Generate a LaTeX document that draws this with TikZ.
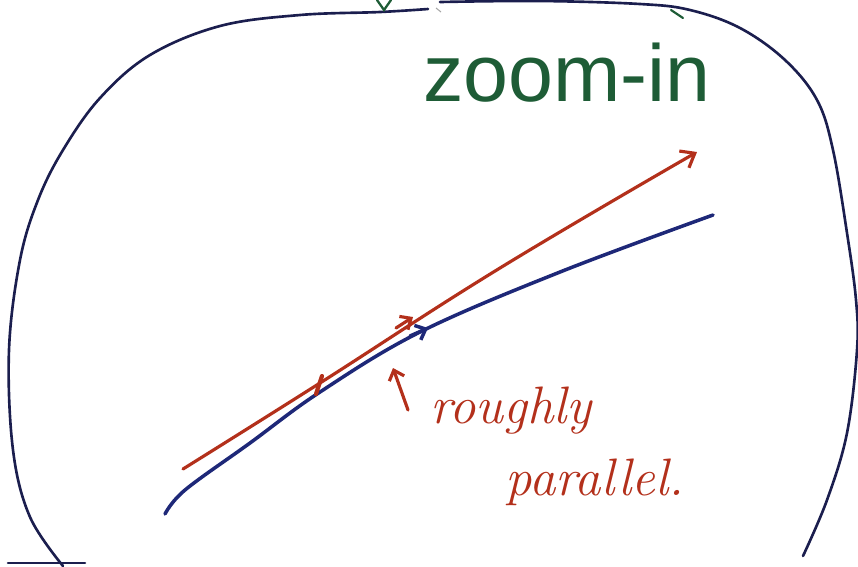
\documentclass[tikz,border=0pt]{standalone}
\usepackage{fontspec}
\usetikzlibrary{arrows.meta}
\newfontfamily\titlefont{Liberation Sans}
\definecolor{SketchNavy}{HTML}{1B1E4E}
\definecolor{SketchBlue}{HTML}{1E2878}
\definecolor{SketchRed}{HTML}{B3301B}
\definecolor{SketchGreen}{HTML}{1E5C36}
\tikzset{
    % Pen strokes
    outline/.style={
        draw=SketchNavy,
        line width=1.5pt,
        line cap=round,
        line join=round
    },
    curve/.style={
        draw=SketchBlue,
        line width=2pt,
        line cap=round,
        line join=round
    },
    tangent/.style={
        draw=SketchRed,
        line width=1.8pt,
        line cap=round,
        line join=round
    },
    % Arrow tips
    tip/.style={
        -{Straight Barb[length=7pt,width=11pt]}
    },
    smalltip/.style={
        -{Straight Barb[length=5pt,width=9pt]}
    },
    % Labels
    title/.style={
        text=SketchGreen,
        font=\titlefont\fontsize{46}{46}\selectfont,
        inner sep=0pt
    },
    note/.style={
        text=SketchRed,
        font=\fontsize{30}{30}\selectfont\itshape,
        inner sep=0pt
    }
}

\begin{document}
\begin{tikzpicture}[x=0.02cm, y=-0.02cm]
    \useasboundingbox (0,0) rectangle (858,566);

    % Zoom window outline
    \draw[outline] plot[smooth, tension=0.6] coordinates {
        (63,566) (30,517) (13,450) (9,350) (20,260) (38,200) (63,150)
        (100,98) (150,55) (220,26) (300,15) (380,12) (428,9)};
    \draw[outline] plot[smooth, tension=0.6] coordinates {
        (440,2) (540,1) (640,4) (690,10) (740,28) (785,60) (817,100)
        (833,150) (847,233) (856,300) (857,350) (847,433) (827,500) (803,556)};
    \draw[outline] (8,563) -- (85,563);
    \draw[SketchGreen, line width=1.3pt, line cap=round] (377,0) -- (384,10) -- (391,0);
    \draw[SketchGreen, line width=1.2pt, line cap=round] (671,10) -- (683,18);
    \draw[black!35, line width=0.6pt] (436,8) -- (441,12);

    % Title
    \node[title, anchor=base] (zoom) at (567,101) {zoom-in};

    % Curve and its tangent
    \draw[curve] plot[smooth, tension=0.6] coordinates {
        (165,514) (185,490) (250,443) (320,392) (420,332) (560,272) (713,215)};
    \draw[curve, smalltip] (410,336) -- (428,328);
    \draw[tangent, tip] plot[smooth, tension=0.7] coordinates {
        (183,469) (320,383) (500,268) (697,152)};
    \draw[tangent, smalltip] (396,328) -- (413,317);
    \draw[SketchRed, line width=2.4pt, line cap=round] (316,394) -- (322,376);

    % Annotation
    \coordinate (touch) at (393,368);
    \coordinate (ptr) at (408,410);
    \draw[tangent, smalltip] (ptr) -- (touch);
    \node[note, anchor=base] (rough) at (511,423) {roughly};
    \node[note, anchor=base] (para) at (595,495) {parallel.};
\end{tikzpicture}
\end{document}
